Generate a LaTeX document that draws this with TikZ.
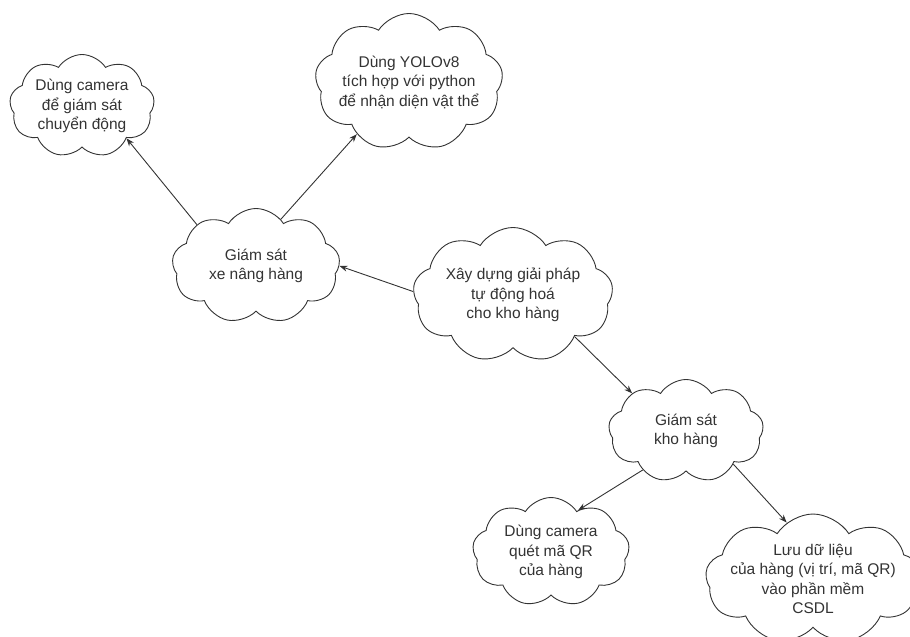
\documentclass[tikz,border=0pt]{standalone}
\usepackage{fontspec}
\setmainfont{Liberation Sans}
\usetikzlibrary{shapes.symbols,arrows.meta}
\tikzset{
  cloudbox/.style={cloud, cloud puffs=9, cloud puff arc=115, cloud ignores aspect,
    draw=black!80, line width=0.9pt, inner sep=0pt, fill=white},
  txt/.style={align=center, font=\fontsize{15.5}{19.5}\selectfont, text=black!80},
  arr/.style={draw=black!80, line width=0.9pt, -{Stealth[length=8pt,width=6pt]}},
}
\begin{document}
\begin{tikzpicture}[x=1pt,y=-1pt]
\useasboundingbox (0,0) rectangle (910,637);
\node[cloudbox, minimum width=145pt, minimum height=103pt,
  label={[txt,name=t1]center:{Dùng camera\\để giám sát\\chuyển động}}] (c1) at (82,106) {};
\node[cloudbox, minimum width=188pt, minimum height=137pt,
  label={[txt,name=t2]center:{Dùng YOLOv8\\tích hợp với python\\để nhận diện vật thể}}] (c2) at (409,82) {};
\node[cloudbox, minimum width=168pt, minimum height=115pt,
  label={[txt,name=t3]center:{Giám sát\\xe nâng hàng}}] (c3) at (256,266) {};
\node[cloudbox, minimum width=200pt, minimum height=135pt,
  label={[txt,name=t4]center:{Xây dựng giải pháp\\tự động hoá\\cho kho hàng}}] (c4) at (513,295) {};
\node[cloudbox, minimum width=155pt, minimum height=103pt,
  label={[txt,name=t5]center:{Giám sát\\kho hàng}}] (c5) at (686,431) {};
\node[cloudbox, minimum width=157pt, minimum height=109pt,
  label={[txt,name=t6]center:{Dùng camera\\quét mã QR\\của hàng}}] (c6) at (551,552) {};
\node[cloudbox, minimum width=215pt, minimum height=130pt,
  label={[txt,name=t7]center:{Lưu dữ liệu\\của hàng (vị trí, mã QR)\\vào phần mềm\\CSDL}}] (c7) at (813,579) {};
\draw[arr] (c3.145) -- (c1.-36);
\draw[arr] (c3.62) -- (c2.-135);
\draw[arr] (c4.178) -- (c3.0);
\draw[arr] (c4.-34) -- (c5.145);
\draw[arr] (c5.-138) -- (c6.57);
\draw[arr] (c5.-35) -- (c7.115);
\end{tikzpicture}
\end{document}
